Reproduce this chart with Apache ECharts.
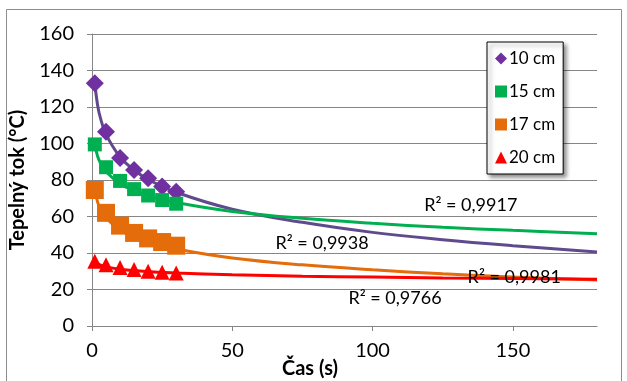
<!DOCTYPE html>
<html>
<head>
<meta charset="utf-8">
<script src="https://cdn.jsdelivr.net/npm/echarts@6/dist/echarts.min.js"></script>
<style>
  html, body { margin: 0; padding: 0; background: #fff; }
  #chart { width: 627px; height: 381px; }
</style>
</head>
<body>
<div id="chart"></div>
<script>
// namerene body
var casX = [1, 5, 10, 15, 20, 25, 30];
var tok10 = [133, 106.5, 92, 85.5, 81, 76.5, 73.5];
var tok15 = [99.5, 87, 79.5, 75, 71.5, 69, 67];
var tok17 = [74.5, 62, 55, 51, 48, 46, 44];
var tok20 = [35.5, 33.5, 32, 31, 30, 29.5, 29];

// trendy
var trendX = [1, 2, 3, 5, 10, 15, 20, 30, 50, 75, 100, 125, 150, 180];
var trend10 = [133, 121, 114, 105, 92.6, 85.5, 80.3, 73.3, 64, 56.8, 51.3, 47.3, 44, 40.5];
var trend15 = [99.5, 93, 89.3, 84.5, 78, 74.2, 71.4, 67.7, 62.8, 59, 56.3, 54.1, 52.4, 50.6];
var trend17 = [74.5, 67.9, 64.1, 59.2, 52.6, 48.8, 46, 42.2, 37.3, 33.5, 30.8, 28.6, 26.9, 25.2];
var trend20 = [35.5, 34.2, 33.4, 32.4, 31.1, 30.4, 29.8, 29, 28.1, 27.3, 26.8, 26.3, 26, 25.6];

var names = ['10 cm', '15 cm', '17 cm', '20 cm'];
var r2 = ['R² = 0,9938', 'R² = 0,9917', 'R² = 0,9981', 'R² = 0,9766'];
var r2Pos = [[82, 45.5], [135, 66.3], [150.5, 26.8], [108, 15.3]];

var font = 'Lato, "Open Sans", sans-serif';

function pairs(xs, ys) {
	var out = [];
	for (var i = 0; i < xs.length; i++) {
		out.push([xs[i], ys[i]]);
	}
	return out;
}

function trend(name, ys, color, idx) {
	return {
		name : name,
		type : 'line',
		data : pairs(trendX, ys),
		smooth : 0.4,
		showSymbol : false,
		silent : true,
		z : 1,
		lineStyle : { color : color, width : 3 },
		markPoint : {
			symbol : 'rect',
			symbolSize : 1,
			itemStyle : { color : 'transparent' },
			label : {
				show : true,
				position : 'inside',
				formatter : r2[idx],
				color : '#000',
				fontSize : 18,
				fontFamily : font
			},
			data : [ { coord : r2Pos[idx] } ]
		}
	};
}

var chart = echarts.init(document.getElementById('chart'));

var option = {
	animation : false,
	textStyle : { fontFamily : font },
	grid : { left : 91, right : 30, top : 34, bottom : 55 },
	graphic : [ {
		type : 'rect',
		shape : { x : 6.5, y : 9.5, width : 615, height : 380 },
		style : { fill : 'none', stroke : '#8c8c8c', lineWidth : 1 },
		z : -10
	}, {
		type : 'text',
		left : 282,
		top : 359,
		style : {
			text : 'Čas (s)',
			font : 'bold 20px ' + font,
			fill : '#000'
		}
	} ],
	legend : {
		orient : 'vertical',
		left : 487,
		top : 42,
		padding : [ 8, 8, 8, 8 ],
		itemGap : 16,
		itemWidth : 12,
		itemHeight : 12,
		backgroundColor : '#fff',
		borderColor : '#000',
		borderWidth : 1,
		shadowColor : 'rgba(0,0,0,0.45)',
		shadowBlur : 4,
		shadowOffsetX : 3,
		shadowOffsetY : 3,
		textStyle : { fontSize : 17, color : '#000', fontFamily : font, padding : [0, 0, 0, -3] },
		data : [
			{ name : names[0], icon : 'diamond' },
			{ name : names[1], icon : 'rect' },
			{ name : names[2], icon : 'rect' },
			{ name : names[3], icon : 'triangle' }
		]
	},
	xAxis : {
		type : 'value',
		min : 0,
		max : 180,
		interval : 50,
		axisLine : { onZero : false, lineStyle : { color : '#868686' } },
		axisTick : { show : true, length : 5, lineStyle : { color : '#868686' } },
		axisLabel : { color : '#000', fontSize : 20, margin : 15, showMaxLabel : false,
			formatter : function(v) { return v % 50 === 0 ? String(v) : ''; } },
		splitLine : { show : false }
	},
	yAxis : {
		type : 'value',
		min : 0,
		max : 160,
		interval : 20,
		name : 'Tepelný tok (°C)',
		nameLocation : 'middle',
		nameGap : 64,
		nameTextStyle : { fontSize : 20, fontWeight : 'bold', color : '#000' },
		axisLine : { show : true, lineStyle : { color : '#868686' } },
		axisTick : { show : true, length : 5, lineStyle : { color : '#868686' } },
		axisLabel : { color : '#000', fontSize : 20, margin : 18 },
		splitLine : { lineStyle : { color : '#868686', width : 1 } }
	},
	series : [
		trend('t10', trend10, '#5f4b8b', 0),
		trend('t15', trend15, '#00b050', 1),
		trend('t17', trend17, '#e46c0a', 2),
		trend('t20', trend20, '#ff0000', 3),
		{
			name : names[0], type : 'scatter', data : pairs(casX, tok10),
			symbol : 'diamond', symbolSize : 18, z : 3,
			itemStyle : { color : '#7030a0', opacity : 1 }
		},
		{
			name : names[1], type : 'scatter', data : pairs(casX, tok15),
			symbol : 'rect', symbolSize : 14, z : 3,
			itemStyle : { color : '#00b050', opacity : 1 }
		},
		{
			name : names[2], type : 'scatter', data : pairs(casX, tok17),
			symbol : 'rect', symbolSize : 18, z : 3,
			itemStyle : { color : '#e46c0a', opacity : 1 }
		},
		{
			name : names[3], type : 'scatter', data : pairs(casX, tok20),
			symbol : 'triangle', symbolSize : 15, z : 3,
			itemStyle : { color : '#ff0000', opacity : 1 }
		}
	]
};

chart.setOption(option);
</script>
</body>
</html>
